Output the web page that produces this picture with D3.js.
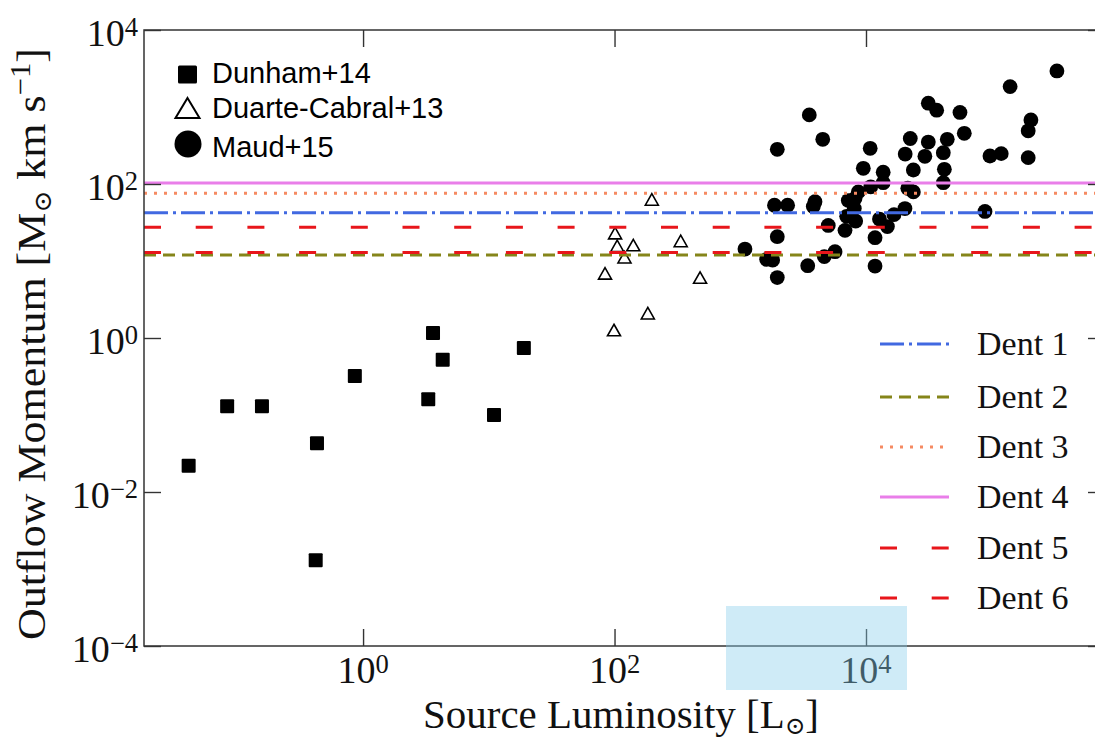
<!DOCTYPE html>
<html>
<head>
<meta charset="utf-8">
<script src="https://cdn.jsdelivr.net/npm/d3@7"></script>
<style>
  body { margin: 0; background: #fff; }
  svg { display: block; }
</style>
</head>
<body>
<div id="main-div"></div>
<script>
// Outflow momentum vs source luminosity, with Dent model levels

// Dunham+14 (filled squares)
let dunhamL = [0.041, 0.083, 0.157, 0.43, 0.42, 0.86, 3.3, 3.6, 4.3, 11, 19]
let dunhamP = [0.022, 0.13, 0.13, 0.043, 0.0013, 0.32, 0.16, 1.16, 0.52, 0.10, 0.74]

// Duarte-Cabral+13 (open triangles)
let duarteL = [198, 101, 105, 141, 120, 336, 84, 479, 184, 99]
let duarteP = [63, 23, 15.7, 16.1, 11.2, 18.2, 6.9, 6.1, 2.1, 1.27]

// Maud+15 (filled circles)
let maudL = [330000, 140000, 3540, 31300, 36500, 55900, 205000, 195000, 60500, 4530,
             22500, 31300, 44300, 1970, 10800, 20500, 29400, 41200, 96800, 119000,
             195000, 9520, 23800, 42000, 13700, 13700, 41200, 10900, 21500, 23800,
             8690, 7230, 8180, 1870, 2380, 3930, 3810, 8070, 20400, 88400,
             16700, 7020, 8280, 12800, 5010, 14800, 6810, 1970, 11800, 1090,
             1620, 1810, 4660, 5670, 3440, 11800, 1970]
let maudP = [2940, 1840, 790, 1120, 910, 850, 680, 490, 455, 380,
             390, 350, 380, 282, 291, 245, 229, 255, 231, 248,
             220, 160, 152, 155, 142, 104, 104, 92, 88, 79,
             79, 61, 65, 53, 53, 59, 51, 48, 48, 44,
             40, 38, 33, 35, 29, 28, 25, 20.7, 20.1, 14.3,
             10.5, 10.3, 11.4, 13.2, 8.7, 8.6, 6.1]

// Dent models (horizontal levels)
let dentNames = ["Dent 1", "Dent 2", "Dent 3", "Dent 4", "Dent 5", "Dent 6"]
let dentValues = [42.4, 12.0, 75.7, 103, 27.4, 12.9]
let dentColors = ["#4169e1", "#85851a", "#f58a62", "#e97ee9", "#e8161b", "#e8161b"]
let dentDashes = ["24,5,3,5", "12,7", "3,7", null, "17,34.7", "17,34.7"]

let scatterNames = ["Dunham+14", "Duarte-Cabral+13", "Maud+15"]

let xTicks = [1, 100, 10000]
let yTicks = [1e-4, 1e-2, 1, 1e2, 1e4]
let xDomain = [0.0181, 796000]
let yDomain = [1e-4, 1e4]

let width = 1095
let height = 740
let plot = {left: 144, right: 1105, top: 30, bottom: 646}

let serif = "'Liberation Serif', 'DejaVu Serif', serif"
let sans = "'Liberation Sans', Arial, sans-serif"

let svg = d3.select("#main-div")
  .append("svg")
  .attr("width", width)
  .attr("height", height)

svg.append("rect").attr("width", width).attr("height", height).attr("fill", "#fff")

let x = d3.scaleLog().domain(xDomain).range([plot.left, plot.right])
let y = d3.scaleLog().domain(yDomain).range([plot.bottom, plot.top])

svg.append("clipPath").attr("id", "clip")
  .append("rect")
  .attr("x", plot.left).attr("y", plot.top)
  .attr("width", plot.right - plot.left).attr("height", plot.bottom - plot.top)

let inner = svg.append("g").attr("clip-path", "url(#clip)")

// helper: text with sub / superscripts as tspans
function rich(textSel, parts, size, supRaise) {
  let shift = 0
  parts.forEach(p => {
    let off = p.sup ? -supRaise * size : (p.sub ? 0.14 * size : 0)
    textSel.append("tspan")
      .attr("dy", off - shift)
      .attr("font-size", p.sup ? size * 0.7 : (p.sub ? size * 0.6 : size))
      .text(p.t)
    shift = off
  })
}

function tri(w, h) {
  return `M0,${-h / 2}L${w / 2},${h / 2}L${-w / 2},${h / 2}Z`
}

// scatter points
let dunham = dunhamL.map((d, i) => ({L: d, P: dunhamP[i]}))
let duarte = duarteL.map((d, i) => ({L: d, P: duarteP[i]}))
let maud = maudL.map((d, i) => ({L: d, P: maudP[i]}))

inner.selectAll(".sq")
  .data(dunham)
  .join("rect")
  .attr("class", "sq")
  .attr("x", d => x(d.L) - 7)
  .attr("y", d => y(d.P) - 7)
  .attr("width", 14).attr("height", 14)
  .attr("rx", 1)
  .attr("fill", "#000")

inner.selectAll(".tri")
  .data(duarte)
  .join("path")
  .attr("class", "tri")
  .attr("d", tri(13, 11.5))
  .attr("transform", d => `translate(${x(d.L)},${y(d.P)})`)
  .attr("fill", "#fff")
  .attr("stroke", "#000")
  .attr("stroke-width", 1.6)
  .attr("stroke-linejoin", "miter")

inner.selectAll(".dot")
  .data(maud)
  .join("circle")
  .attr("class", "dot")
  .attr("cx", d => x(d.L))
  .attr("cy", d => y(d.P))
  .attr("r", 7.4)
  .attr("fill", "#000")

// Dent horizontal lines (drawn over the points)
dentValues.forEach((v, i) => {
  inner.append("line")
    .attr("x1", plot.left).attr("x2", plot.right)
    .attr("y1", y(v)).attr("y2", y(v))
    .attr("stroke", dentColors[i])
    .attr("stroke-width", 3)
    .attr("stroke-dasharray", dentDashes[i])
})

// frame
svg.append("rect")
  .attr("x", plot.left).attr("y", plot.top)
  .attr("width", plot.right - plot.left).attr("height", plot.bottom - plot.top)
  .attr("fill", "none")
  .attr("stroke", "#333")
  .attr("stroke-width", 1.5)

// inward ticks on all four sides
let tickLen = 17
let gx = svg.append("g").attr("transform", `translate(0,${plot.bottom})`)
  .call(d3.axisBottom(x).tickValues(xTicks).tickSize(-tickLen).tickFormat(""))
let gxTop = svg.append("g").attr("transform", `translate(0,${plot.top})`)
  .call(d3.axisTop(x).tickValues(xTicks).tickSize(-tickLen).tickFormat(""))
let gy = svg.append("g").attr("transform", `translate(${plot.left},0)`)
  .call(d3.axisLeft(y).tickValues(yTicks).tickSize(-tickLen).tickFormat(""))
let gyR = svg.append("g").attr("transform", `translate(${plot.right},0)`)
  .call(d3.axisRight(y).tickValues(yTicks).tickSize(-tickLen).tickFormat(""))

;[gx, gxTop, gy, gyR].forEach(g => {
  g.select(".domain").remove()
  g.selectAll(".tick line").attr("stroke", "#333").attr("stroke-width", 1.4)
})

function expLabel(v) {
  let e = Math.round(Math.log10(v))
  return [{t: "10"}, {t: e < 0 ? "\u2212" + (-e) : String(e), sup: true}]
}

// tick labels
xTicks.forEach(v => {
  let t = svg.append("text")
    .attr("x", x(v)).attr("y", 683)
    .attr("text-anchor", "middle")
    .attr("font-family", serif)
    .attr("fill", "#111")
  rich(t, expLabel(v), 38, 0.27)
})

yTicks.forEach(v => {
  let t = svg.append("text")
    .attr("x", 138).attr("y", y(v) + 16)
    .attr("text-anchor", "end")
    .attr("font-family", serif)
    .attr("fill", "#111")
  rich(t, expLabel(v), 38, 0.27)
})

// axis titles, squeezed to the reference width
function fitted(tx, ty, rot, parts, size, target) {
  let g = svg.append("g")
  let t = g.append("text")
    .attr("text-anchor", "middle")
    .attr("font-family", serif)
    .attr("fill", "#111")
  rich(t, parts, size, 0.36)
  let w = t.node().getBBox().width
  g.attr("transform", `translate(${tx},${ty}) rotate(${rot}) scale(${target / w},1)`)
}

fitted(621, 728, 0, [{t: "Source Luminosity [L"}, {t: "\u2299", sub: true}, {t: "]"}], 41, 396)
fitted(45, 344, -90, [{t: "Outflow Momentum [M"}, {t: "\u2299", sub: true}, {t: " km s"},
  {t: "\u22121", sup: true}, {t: "]"}], 41, 592)

// legend: data sets (top left)
let legL = svg.append("g").attr("font-family", sans).attr("font-size", 29).attr("fill", "#000")
let legRows = [74.5, 108, 144]
legL.append("rect").attr("x", 178).attr("y", legRows[0] - 9).attr("width", 19).attr("height", 18)
  .attr("rx", 1.5).attr("fill", "#000")
legL.append("path").attr("d", tri(24, 20))
  .attr("transform", `translate(187.5,${legRows[1]})`)
  .attr("fill", "#fff").attr("stroke", "#000").attr("stroke-width", 2)
legL.append("circle").attr("cx", 188).attr("cy", legRows[2]).attr("r", 13.5).attr("fill", "#000")
scatterNames.forEach((n, i) => {
  legL.append("text").attr("x", 212).attr("y", legRows[i] + [8.5, 10, 13][i]).text(n)
})

// legend: Dent lines (right)
let legR = svg.append("g")
let legY = [344, 397, 447, 497, 548, 598]
dentNames.forEach((n, i) => {
  legR.append("line")
    .attr("x1", 880).attr("x2", 949)
    .attr("y1", legY[i]).attr("y2", legY[i])
    .attr("stroke", dentColors[i])
    .attr("stroke-width", 3)
    .attr("stroke-dasharray", dentDashes[i])
  legR.append("text")
    .attr("x", 977).attr("y", legY[i] + 11)
    .attr("font-family", serif)
    .attr("font-size", 34)
    .attr("fill", "#111")
    .text(n)
})

// light blue highlight box over the bottom axis
svg.append("rect")
  .attr("x", 726).attr("y", 606)
  .attr("width", 181).attr("height", 84)
  .attr("fill", "#87ceeb")
  .attr("opacity", 0.4)
</script>
</body>
</html>
